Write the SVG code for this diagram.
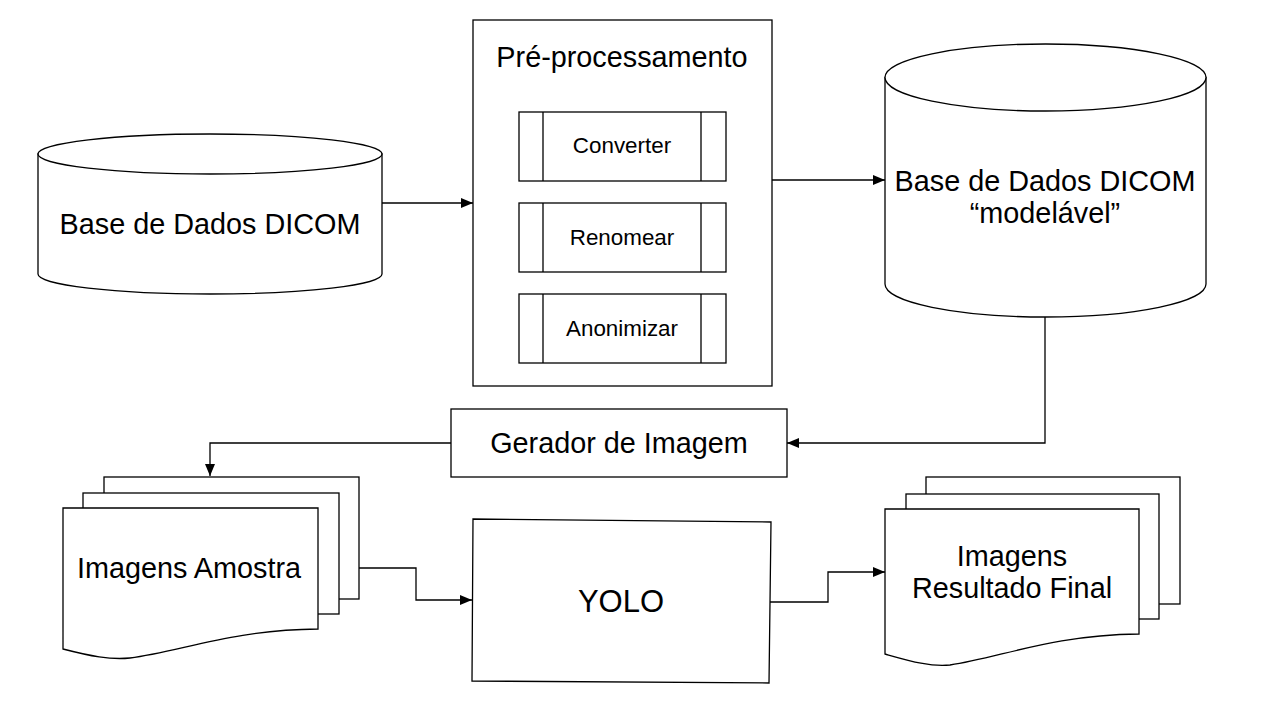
<svg xmlns="http://www.w3.org/2000/svg" width="1267" height="714" viewBox="0 0 1267 714">
<style>
.s{fill:#fff;stroke:#000;stroke-width:1.3}
.n{fill:none;stroke:#000;stroke-width:1.3}
.t{font-family:"Liberation Sans",Arial,sans-serif;font-size:28.8px;fill:#000;text-anchor:middle}
.ts{font-family:"Liberation Sans",Arial,sans-serif;font-size:22.4px;fill:#000;text-anchor:middle}
.c{fill:none;stroke:#000;stroke-width:1.3;marker-end:url(#arr)}
</style>
<defs>
<marker id="arr" markerUnits="userSpaceOnUse" markerWidth="14" markerHeight="12" refX="12" refY="5" orient="auto">
<path d="M0,0 L12,5 L0,10 Z" fill="#000"/>
</marker>
</defs>
<rect width="1267" height="714" fill="#fff"/>

<g id="connectors">
<path class="c" d="M382,203 H473"/>
<path class="c" d="M772,180 H885"/>
<path class="c" d="M1045,317 V443 H787"/>
<path class="c" d="M451,443 H210 V476"/>
<path class="c" d="M359,568 H416 V600 H472"/>
<path class="c" d="M770,602 H828 V572 H885"/>
</g>

<g id="db-dicom">
<path class="s" d="M38,154 V274 A172,20 0 0 0 382,274 V154 Z"/>
<ellipse class="s" cx="210" cy="154" rx="172" ry="20"/>
<text class="t" x="210" y="234">Base de Dados DICOM</text>
</g>

<g id="preprocessamento">
<rect class="s" x="473" y="20" width="299" height="366"/>
<text class="t" x="622" y="67">Pré-processamento</text>
</g>
<g id="converter">
<rect class="s" x="519" y="112" width="207" height="69"/>
<path class="n" d="M543,112 V181 M701,112 V181"/>
<text class="ts" x="622" y="153">Converter</text>
</g>
<g id="renomear">
<rect class="s" x="519" y="203" width="207" height="69"/>
<path class="n" d="M543,203 V272 M701,203 V272"/>
<text class="ts" x="622" y="245">Renomear</text>
</g>
<g id="anonimizar">
<rect class="s" x="519" y="294" width="207" height="69"/>
<path class="n" d="M543,294 V363 M701,294 V363"/>
<text class="ts" x="622" y="336">Anonimizar</text>
</g>

<g id="db-modelavel">
<path class="s" d="M885,77.5 V284 A160.5,33 0 0 0 1206,284 V77.5 Z"/>
<ellipse class="s" cx="1045.5" cy="77.5" rx="160.5" ry="33.5"/>
<text class="t" x="1045" y="191">Base de Dados DICOM</text>
<text class="t" x="1045" y="223">“modelável”</text>
</g>

<g id="gerador">
<rect class="s" x="451" y="409" width="336" height="68"/>
<text class="t" x="619" y="453">Gerador de Imagem</text>
</g>

<g id="imagens-amostra">
<rect class="s" x="104" y="477" width="255" height="122"/>
<rect class="s" x="83" y="493" width="256" height="121"/>
<path class="s" d="M63,508 H318 V629 C230,630 180,652 130,658 C110,660 90,656 63,649 Z"/>
<text class="t" x="189" y="578">Imagens Amostra</text>
</g>

<g id="yolo">
<polygon class="s" points="473,519 771,522 769,683 472,681"/>
<text class="t" x="621" y="612" style="font-size:31px">YOLO</text>
</g>

<g id="imagens-resultado">
<rect class="s" x="926" y="477" width="254" height="127"/>
<rect class="s" x="906" y="494" width="253" height="125"/>
<path class="s" d="M885,509 H1139 V634 C1050,635 1000,658 950,665 C930,667 910,661 885,654 Z"/>
<text class="t" x="1012" y="566">Imagens</text>
<text class="t" x="1012" y="598">Resultado Final</text>
</g>
</svg>
